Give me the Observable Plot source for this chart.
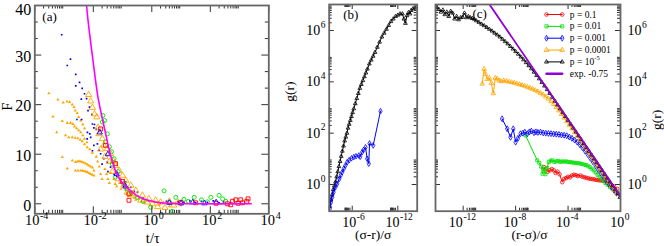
<!DOCTYPE html>
<html><head><meta charset="utf-8">
<script src="https://cdn.jsdelivr.net/npm/d3@7"></script>
<script src="https://cdn.jsdelivr.net/npm/@observablehq/plot@0.6"></script>
<style>
html,body{margin:0;padding:0;background:#fff;}
#fig{position:relative;width:664px;height:246px;overflow:hidden;background:#fff;}
#fig svg{position:absolute;left:0;top:0;}
</style></head><body><div id="fig"></div>
<script>
// ---------- Panel (a): F vs t/tau, pairs are [log10(t/tau), F] ----------
const aOrangeDots = [
 [-3.52,22.3],[-3.38,17.6],[-3.25,14.4],[-3.06,9.4],[-2.89,7.1],
 [-3.21,21.0],[-3.03,20.4],[-2.9,20.6],[-2.81,20.5],[-2.72,20.0],[-2.66,19.5],[-2.62,18.8],[-2.55,18.3],[-2.5,17.5],[-2.43,16.8],[-2.36,16.0],[-2.3,15.2],
 [-3.06,16.7],[-2.89,16.3],[-2.78,16.3],[-2.7,16.1],[-2.64,15.6],[-2.57,15.2],[-2.5,14.8],[-2.43,14.4],[-2.36,13.8],[-2.3,13.1],[-2.22,12.4],
 [-2.95,13.8],[-2.84,13.4],[-2.72,13.4],[-2.62,13.3],[-2.53,13.2],[-2.45,12.9],[-2.38,12.6],[-2.3,12.0],[-2.21,11.4],[-2.12,11.0],[-2.03,10.3],
 [-2.72,8.7],[-2.61,8.4],[-2.55,8.5],[-2.49,8.6],[-2.43,8.5],[-2.38,8.4],[-2.32,8.3],[-2.26,8.1],[-2.2,7.9],[-2.15,7.7],[-2.09,7.5],[-2.03,7.3],[-1.98,6.7],
 [-2.61,6.7],[-2.52,6.7],[-2.43,6.7],[-2.37,6.65],[-2.32,6.6],[-2.26,6.5],[-2.21,6.4],[-2.15,6.2],[-2.09,6.0],[-2.03,5.85],[-1.98,5.7],
 [-1.9,9.5],[-1.85,8.5],[-1.8,7.5],[-1.75,6.0],[-1.7,5.0],[-1.6,7.0],[-1.55,6.0],[-1.5,5.0],[-1.45,4.2],[-1.4,6.2],[-1.3,5.0],[-1.25,4.0],[-1.2,3.5],
 [-1.1,4.2],[-1.05,3.0],[-1.0,3.5],[-0.9,2.8],[-0.85,2.0],[-0.8,1.5],[-0.7,2.0],[-0.6,1.2],[-0.55,0.8],[-0.45,1.0],[-0.35,0.5],[-0.25,0.2],
 [-0.15,0.6],[-0.05,-0.3],[0.1,0.4],[0.25,-0.2],[0.4,0.3],[0.6,-0.5],[0.8,0.2],[1.0,-0.3]
];
const aBlueDots = [
 [-3.08,34.1],[-2.78,29.2],[-2.89,27.9],[-2.6,26.1],[-2.47,24.5],[-2.6,23.8],[-2.38,23.3],[-2.3,22.2],[-2.23,21.2],[-2.41,21.1],
 [-2.13,19.5],[-2.18,18.8],[-2.56,17.0],[-2.4,17.0],[-2.05,18.0],[-1.96,16.0],[-1.9,15.0],[-2.2,14.4],[-2.09,13.4],[-2.03,16.1],
 [-1.98,15.3],[-2.12,14.1],[-2.21,13.1],[-1.98,11.8],[-1.86,12.1],[-2.03,10.7],[-1.8,10.8],[-1.75,10.1],[-1.64,9.1],[-1.7,8.0],
 [-1.52,8.4],[-1.41,7.4],[-1.5,6.5],[-1.29,6.0],[-1.2,5.5],[-1.07,5.0],[-0.89,4.4],[-0.95,3.5],[-0.72,3.3],[-0.6,2.5],[-0.49,2.3],
 [-0.3,1.2],[-0.1,0.6],[0.3,0.2],[0.5,0.5],[0.7,0.1],[0.9,0.4],[1.1,0.3],[1.3,0.6],[1.5,0.2],[1.7,0.5],[1.9,0.3],[2.1,0.6],[2.3,0.2],[2.45,0.4]
];
const aBlueTriangles = [[-1.78,14.4],[-1.5,10.0],[-1.2,6.0],[-0.9,3.5],[0.6,0.2],[1.0,0.1],[1.4,0.3],[1.8,0.1],[2.2,0.3]];
const aOrangeTriangles = [
 [-2.16,22.0],[-2.09,20.7],[-2.03,19.4],[-1.96,18.1],[-1.88,17.5],[-1.84,15.4],[-1.81,14.1],[-1.69,13.1],[-1.64,11.8],[-1.52,11.1],
 [-1.41,10.1],[-1.32,8.7],[-1.24,7.7],[-1.12,6.7],[-1.0,5.7],[-0.89,4.7],[-0.72,3.7],[-0.55,2.7],[-0.32,1.7],[-0.1,1.0],[0.13,0.7],
 [0.3,0.3],[-0.84,2.3],[-0.61,1.7],[-0.38,0.7],[-0.15,0.3],[0.02,0.0],[-1.75,11.0],[-1.6,9.5],[-1.45,8.5],[-1.35,6.5],[-1.15,5.0],
 [-0.95,3.8],[-0.65,2.0],[0.2,-0.6],[0.45,-0.8],[0.6,0.5],[0.75,-0.3],[0.9,0.2]
];
const aGreenCircles = [
 [-1.67,17.8],[-1.61,16.8],[-1.69,16.5],[-1.52,14.1],[-1.58,12.5],[-1.45,11.5],[-1.38,10.5],[-1.29,9.1],[-1.35,8.0],[-1.24,5.4],
 [-1.15,6.5],[-0.95,4.0],[-0.85,3.0],[-0.7,2.2],[-0.49,1.3],[-0.3,0.5],[-0.04,-0.7],[0.7,-1.5],[0.42,2.6],[0.82,1.3],[1.1,0.9],
 [1.45,1.3],[1.7,0.8],[2.02,1.3],[2.3,1.7],[2.42,1.0],[2.53,0.5],[1.25,0.5],[1.9,0.4],[0.6,0.3]
];
const aRedSquares = [
 [-1.75,15.1],[-1.58,11.8],[-1.24,8.1],[-1.0,4.5],[-0.78,2.0],[-0.78,0.7],[0.99,0.3],[2.59,0.0],[2.76,0.5],[2.87,0.8],[3.04,0.8],
 [3.25,0.5],[3.29,1.0],[2.95,0.1],[3.1,0.2],[2.7,-0.2],[1.5,0.2],[2.2,0.1]
];
const aFitLine = [
 [-2.23,40],[-2.18,37],[-2.01,28.9],[-1.84,21.5],[-1.67,16.6],[-1.55,13.4],[-1.47,11.2],[-1.29,7.4],[-1.07,4.7],[-0.72,2.6],
 [-0.38,1.2],[0.08,0.4],[0.53,0.1],[1.5,0],[3.4,0]
];

// ---------- Panel (b): pairs are [log10((sigma-r)/sigma), log10 g(r)] ----------
const bBlack = [
 [-3.05,-0.85],[-3.2,-0.6],[-3.35,-0.4],[-3.5,-0.2],[-3.65,-0.05],[-3.8,0.1],[-3.95,0.3],[-4.1,0.5],[-4.25,0.7],[-4.4,0.9],
 [-4.55,1.1],[-4.7,1.3],[-4.85,1.5],[-5.0,1.7],[-5.15,1.85],[-5.3,2.0],[-5.45,2.2],[-5.6,2.35],[-5.75,2.5],[-5.9,2.65],
 [-6.05,2.8],[-6.2,2.95],[-6.4,3.15],[-6.6,3.35],[-6.8,3.55],[-7.0,3.75],[-7.2,3.9],[-7.4,4.05],[-7.6,4.2],[-7.8,4.35],
 [-8.0,4.5],[-8.25,4.7],[-8.5,4.85],[-8.75,5.0],[-9.0,5.15],[-9.3,5.35],[-9.6,5.55],[-9.9,5.75],[-10.2,5.9],[-10.5,6.05],
 [-10.8,6.2],[-11.1,6.35],[-11.4,6.45],[-11.7,6.55],[-12.0,6.6],[-12.3,6.65],[-12.6,6.65],[-12.8,6.45],[-13.0,6.28],[-13.2,6.58],
 [-13.4,6.7],[-13.6,6.65],[-13.75,6.78],[-14.0,6.85],[-14.3,6.88]
];
const bBlue = [
 [-3.05,-0.95],[-3.2,-0.7],[-3.37,-0.5],[-3.55,-0.3],[-3.8,-0.1],[-4.03,0.03],[-4.3,0.22],[-4.5,0.36],[-4.68,0.48],[-4.9,0.62],
 [-5.1,0.74],[-5.34,0.87],[-5.6,0.95],[-5.9,1.02],[-6.21,1.07],[-6.5,1.1],[-6.87,1.13],[-7.05,1.08],[-7.3,1.26],[-7.5,1.35],
 [-7.75,1.45],[-7.97,1.0],[-8.18,0.81],[-8.28,1.6],[-8.76,1.52],[-9.72,2.86]
];

// ---------- Panel (c): pairs are [log10((r-sigma)/sigma), log10 g(r)] ----------
const cRed = [
 [-5.85,0.68],[-5.7,0.62],[-5.55,0.5],[-5.4,0.55],[-5.25,0.6],[-5.08,0.55],[-4.95,0.45],[-4.8,0.5],[-4.65,0.4],[-4.44,0.09],
 [-4.3,0.22],[-4.15,0.25],[-4.0,0.3],[-3.85,0.28],[-3.7,0.35],[-3.55,0.38],[-3.4,0.36],[-3.25,0.33],[-3.05,0.35],[-2.9,0.3],
 [-2.75,0.28],[-2.6,0.26],[-2.45,0.24],[-2.3,0.22],[-2.15,0.21],[-2.0,0.2],[-1.85,0.18],[-1.7,0.17],[-1.55,0.16],[-1.4,0.15],
 [-1.27,0.14],[-1.1,0.1],[-0.9,0.05],[-0.7,-0.02],[-0.5,-0.08],[-0.25,-0.17]
];
const cGreen = [
 [-7.24,1.91],[-6.35,0.94],[-6.2,0.85],[-6.05,0.7],[-5.95,0.42],[-5.85,0.6],[-5.72,0.4],[-5.6,0.65],[-5.47,0.87],[-5.33,0.93],
 [-5.2,0.94],[-5.05,0.88],[-4.9,0.9],[-4.75,0.92],[-4.6,0.88],[-4.45,0.9],[-4.3,0.89],[-4.15,0.9],[-4.0,0.88],[-3.85,0.87],
 [-3.7,0.86],[-3.55,0.85],[-3.4,0.84],[-3.25,0.83],[-3.1,0.82],[-2.95,0.8],[-2.8,0.78],[-2.65,0.76],[-2.5,0.73],[-2.35,0.68],
 [-2.2,0.62],[-2.05,0.55],[-1.9,0.47],[-1.75,0.38],[-1.6,0.3],[-1.45,0.22],[-1.3,0.14],[-1.15,0.06],[-1.0,-0.01],[-0.8,-0.1],
 [-0.6,-0.18],[-0.4,-0.25],[-0.2,-0.32]
];
const cBlue = [
 [-9.03,2.56],[-8.64,2.17],[-8.39,1.84],[-8.18,2.17],[-8.0,1.65],[-7.82,1.8],[-7.63,1.98],[-7.45,2.0],[-7.3,2.04],[-7.1,1.98],
 [-6.95,2.05],[-6.8,2.08],[-6.6,2.02],[-6.45,2.05],[-6.3,2.03],[-6.1,2.04],[-5.9,2.01],[-5.7,2.0],[-5.5,1.99],[-5.3,1.98],
 [-5.1,1.97],[-4.9,1.96],[-4.7,1.95],[-4.5,1.93],[-4.3,1.92],[-4.1,1.9],[-3.9,1.85],[-3.7,1.8],[-3.5,1.73],[-3.3,1.65],
 [-3.1,1.55],[-2.9,1.43],[-2.7,1.3],[-2.5,1.17],[-2.3,1.02],[-2.1,0.88],[-1.9,0.73],[-1.7,0.58],[-1.5,0.44],[-1.3,0.3],
 [-1.1,0.16],[-0.9,0.02],[-0.7,-0.1],[-0.5,-0.22],[-0.3,-0.34]
];
const cOrange = [
 [-10.55,3.92],[-10.4,4.5],[-10.3,4.3],[-10.15,4.1],[-10.0,4.15],[-9.85,3.95],[-9.7,3.55],[-9.55,4.15],[-9.4,4.12],[-9.25,4.05],
 [-9.1,4.02],[-8.9,4.05],[-8.7,4.03],[-8.5,4.0],[-8.3,3.98],[-8.1,3.96],[-7.9,3.93],[-7.7,3.9],[-7.5,3.87],[-7.3,3.84],
 [-7.1,3.8],[-6.9,3.76],[-6.7,3.72],[-6.5,3.67],[-6.3,3.62],[-6.1,3.56],[-5.9,3.5],[-5.7,3.42],[-5.5,3.34],[-5.3,3.24],
 [-5.1,3.13],[-4.9,3.01],[-4.7,2.88],[-4.5,2.74],[-4.3,2.6],[-4.1,2.46],[-3.9,2.32],[-3.7,2.18],[-3.5,2.03],[-3.3,1.89],
 [-3.1,1.74],[-2.9,1.59],[-2.7,1.44],[-2.5,1.29],[-2.3,1.14],[-2.1,0.99],[-1.9,0.84],[-1.7,0.69],[-1.5,0.54],[-1.3,0.39],
 [-1.1,0.24],[-0.9,0.09],[-0.7,-0.06],[-0.5,-0.2],[-0.3,-0.34]
];
const cBlack = [
 [-14.0,6.9],[-13.85,6.82],[-13.7,6.72],[-13.55,6.8],[-13.4,6.62],[-13.25,6.72],[-13.1,6.55],[-12.95,6.75],[-12.8,6.68],[-12.65,6.45],
 [-12.5,6.55],[-12.35,6.42],[-12.2,6.5],[-12.05,6.52],[-11.9,6.68],[-11.75,6.5],[-11.6,6.55],[-11.45,6.5],[-11.3,6.47],[-11.15,6.44],
 [-11.0,6.38],[-10.8,6.32],[-10.6,6.25],[-10.4,6.19],[-10.2,6.12],[-10.0,6.05],[-9.8,5.98],[-9.6,5.9],[-9.4,5.83],[-9.2,5.75],
 [-9.0,5.66],[-8.8,5.57],[-8.6,5.48],[-8.4,5.38],[-8.2,5.28],[-8.0,5.18],[-7.8,5.08],[-7.6,4.97],[-7.4,4.86],[-7.2,4.75],
 [-7.0,4.63],[-6.8,4.51],[-6.6,4.38],[-6.4,4.25],[-6.2,4.12],[-6.0,3.98],[-5.8,3.84],[-5.6,3.7],[-5.4,3.55],[-5.2,3.4],
 [-5.0,3.25],[-4.8,3.1],[-4.6,2.95],[-4.4,2.8],[-4.2,2.65],[-4.0,2.5],[-3.8,2.35],[-3.6,2.2],[-3.4,2.05],[-3.2,1.9],
 [-3.0,1.75],[-2.8,1.6],[-2.6,1.45],[-2.4,1.3],[-2.2,1.15],[-2.0,1.0],[-1.8,0.85],[-1.6,0.7],[-1.4,0.55],[-1.2,0.4],
 [-1.0,0.25],[-0.8,0.1],[-0.6,-0.05],[-0.4,-0.2],[-0.2,-0.35],[-0.05,-0.5]
];
const cPowerLine = [[-10.2,7.17],[0,-0.46]];

// ---------- legend / tick labels ----------
const legendLabels = ["p = 0.1","p = 0.01","p = 0.001","p = 0.0001","p = 10","exp. -0.75"];
const legendSup = ["","","","","-5",""];
const legendColors = ["#ff0000","#00e000","#0000ff","#ffa500","#000000","#9400d3"];
const legendSymbols = ["circle","square","diamond","triangle","triangle",null];
const aXTickExp = [-4,-2,0,2,4];
const aYTicks = [0,10,20,30,40];
const bXTickExp = [-6,-12];
const gYTickExp = [0,2,4,6];
const cXTickExp = [-12,-8,-4,0];

// ---------- helpers ----------
const W = 664, H = 246;
const FONT = "Liberation Serif";
const FRAMEC = "#666", TICKC = "#333";
const fig = document.getElementById("fig");
const lin = d => ({x: 10 ** d[0], y: d[1]});
const loglog = d => ({x: 10 ** d[0], y: 10 ** d[1]});

function draw(opts) {
  const svg = Plot.plot({width: W, height: H, ...opts,
    style: {background: "transparent", fontFamily: FONT, overflow: "visible"}});
  fig.appendChild(svg);
}
function minors(exps) { const out = []; for (const e of exps) for (let k = 2; k <= 9; k++) out.push(k * 10 ** e); return out; }
function ticksX(vals, fh, len) {
  return [Plot.ruleX(vals, {x: d => d, stroke: TICKC, strokeWidth: 1, insetTop: fh - len}),
          Plot.ruleX(vals, {x: d => d, stroke: TICKC, strokeWidth: 1, insetBottom: fh - len})];
}
function ticksY(vals, fw, len) {
  return [Plot.ruleY(vals, {y: d => d, stroke: TICKC, strokeWidth: 1, insetRight: fw - len}),
          Plot.ruleY(vals, {y: d => d, stroke: TICKC, strokeWidth: 1, insetLeft: fw - len})];
}
const chW = c => c === "-" ? 0.333 : 0.5;
function xPowLabels(exps, bfs, efs, dyBase, shift) {
  return exps.flatMap(e => {
    const es = String(e);
    const expW = [...es].reduce((s, c) => s + chW(c), 0) * efs;
    const baseEnd = (bfs - expW) / 2 + shift;
    return [
      Plot.text([10 ** e], {x: d => d, text: () => "10", frameAnchor: "bottom", lineAnchor: "bottom", textAnchor: "end",
        dx: baseEnd, dy: dyBase, fontSize: bfs, fontFamily: FONT, fill: "black"}),
      Plot.text([10 ** e], {x: d => d, text: () => es, frameAnchor: "bottom", lineAnchor: "bottom", textAnchor: "start",
        dx: baseEnd + 0.6, dy: dyBase - bfs * 0.45, fontSize: efs, fontFamily: FONT, fill: "black"})
    ];
  });
}
function yPowLabels(exps, side, bfs, efs, gap) {
  return exps.flatMap(e => {
    const es = String(e);
    if (side === "left") {
      return [
        Plot.text([10 ** e], {y: d => d, text: () => "10", frameAnchor: "left", lineAnchor: "middle", textAnchor: "end",
          dx: -gap - 5, fontSize: bfs, fontFamily: FONT, fill: "black"}),
        Plot.text([10 ** e], {y: d => d, text: () => es, frameAnchor: "left", lineAnchor: "middle", textAnchor: "start",
          dx: -gap - 4.4, dy: -bfs * 0.42, fontSize: efs, fontFamily: FONT, fill: "black"})
      ];
    }
    return [
      Plot.text([10 ** e], {y: d => d, text: () => "10", frameAnchor: "right", lineAnchor: "middle", textAnchor: "start",
        dx: gap, fontSize: bfs, fontFamily: FONT, fill: "black"}),
      Plot.text([10 ** e], {y: d => d, text: () => es, frameAnchor: "right", lineAnchor: "middle", textAnchor: "start",
        dx: gap + bfs + 0.6, dy: -bfs * 0.42, fontSize: efs, fontFamily: FONT, fill: "black"})
    ];
  });
}
function scatter(data, conv, o) {
  return Plot.dot(data.map(conv), {x: "x", y: "y", clip: true, strokeWidth: 0.9, ...o});
}
function series(data, conv, color, symbol, r) {
  const pts = data.map(conv);
  return [
    Plot.line(pts, {x: "x", y: "y", stroke: color, strokeWidth: 1, clip: true}),
    Plot.dot(pts, {x: "x", y: "y", stroke: color, fill: "none", symbol, r, strokeWidth: 0.8, clip: true})
  ];
}

// ---------- Panel (a) ----------
{
  const mL = 34.3, mR = W - 268.3, mT = 5, mB = H - 213.3;
  const fw = W - mL - mR, fh = H - mT - mB;
  const top = aYTicks[aYTicks.length - 1];
  draw({
    marginLeft: mL, marginRight: mR, marginTop: mT, marginBottom: mB,
    x: {type: "log", domain: [1e-4, 1e4], axis: null},
    y: {type: "linear", domain: [-2.02, 40], axis: null},
    marks: [
      scatter(aOrangeDots, lin, {fill: "#ffa500", stroke: "none", symbol: "triangle", r: 1.2}),
      scatter(aBlueDots, lin, {fill: "#0000ff", stroke: "none", symbol: "square", r: 0.95}),
      scatter(aOrangeTriangles, lin, {stroke: "#ffa500", fill: "none", symbol: "triangle", r: 2.3}),
      scatter(aGreenCircles, lin, {stroke: "#00e000", fill: "none", symbol: "circle", r: 2.0}),
      scatter(aRedSquares, lin, {stroke: "#ff0000", fill: "none", symbol: "square", r: 2.2}),
      scatter(aBlueTriangles, lin, {stroke: "#0000ff", fill: "none", symbol: "triangle", r: 2.0}),
      Plot.line(aFitLine.map(lin), {x: "x", y: "y", stroke: "#ff00ff", strokeWidth: 1.6, curve: "catmull-rom", clip: true}),
      ticksX(aXTickExp.map(e => 10 ** e), fh, 7),
      ticksX(minors([-4, -2, 0, 2]), fh, 3.5),
      ticksY(aYTicks, fw, 7),
      ticksY([10/3, 20/3, 40/3, 50/3, 70/3, 80/3, 100/3, 110/3], fw, 3.5),
      Plot.frame({stroke: FRAMEC, strokeWidth: 1.8}),
      Plot.text(aYTicks.filter(v => v !== top), {y: d => d, text: d => String(d), frameAnchor: "left", textAnchor: "end", lineAnchor: "middle",
        dx: -3.5, dy: 1.6, fontSize: 16, fontFamily: FONT, fill: "black"}),
      Plot.text([top], {y: d => d, text: d => String(d), frameAnchor: "left", textAnchor: "end", lineAnchor: "middle",
        dx: -3.5, dy: 4.6, fontSize: 16, fontFamily: FONT, fill: "black"}),
      xPowLabels(aXTickExp, 14.5, 10, 11.5, 1.5),
      Plot.text(["t/τ"], {frameAnchor: "bottom", lineAnchor: "bottom", dy: 29, dx: 1, fontSize: 14.5, fontFamily: FONT, fill: "black"}),
      Plot.text(["F"], {frameAnchor: "left", lineAnchor: "bottom", rotate: -90, dx: -22.5, dy: 1, fontSize: 14.5, fontFamily: FONT, fill: "black"}),
      Plot.text(["(a)"], {frameAnchor: "top-left", lineAnchor: "bottom", textAnchor: "start", dx: 7.5, dy: 15.5, fontSize: 13, fontFamily: FONT, fill: "black"})
    ]
  });
}

// ---------- Panel (b) ----------
const gDomain = [10 ** -1.04, 10 ** 7.013];
{
  const mL = 328.7, mR = W - 416.7, mT = 4, mB = H - 210.7;
  const fw = W - mL - mR, fh = H - mT - mB;
  draw({
    marginLeft: mL, marginRight: mR, marginTop: mT, marginBottom: mB,
    x: {type: "log", domain: [10 ** -2.97, 10 ** -14.55], axis: null},
    y: {type: "log", domain: gDomain, axis: null},
    marks: [
      series(bBlack, loglog, "#000000", "triangle", 1.4),
      series(bBlue, loglog, "#0000ff", "diamond", 1.7),
      ticksX(bXTickExp.map(e => 10 ** e), fh, 5),
      ticksX(minors([-6, -12]), fh, 3),
      ticksY(gYTickExp.map(e => 10 ** e), fw, 5),
      ticksY(minors([0, 2, 4, 6]), fw, 3),
      Plot.frame({stroke: FRAMEC, strokeWidth: 1.8}),
      yPowLabels(gYTickExp, "left", 14, 9.5, 4),
      xPowLabels(bXTickExp, 14, 9.5, 15.5, 1),
      Plot.text(["(σ-r)/σ"], {frameAnchor: "bottom", lineAnchor: "bottom", dy: 27.5, fontSize: 13.5, fontFamily: FONT, fill: "black"}),
      Plot.text(["g(r)"], {frameAnchor: "left", lineAnchor: "middle", rotate: -90, dx: -40, dy: -6, fontSize: 13.5, fontFamily: FONT, fill: "black"}),
      Plot.text(["(b)"], {frameAnchor: "top-left", lineAnchor: "bottom", textAnchor: "start", dx: 14, dy: 14.5, fontSize: 13, fontFamily: FONT, fill: "black"})
    ]
  });
}

// ---------- Panel (c) ----------
{
  const mL = 435, mR = W - 620, mT = 4, mB = H - 210.7;
  const fw = W - mL - mR, fh = H - mT - mB;
  draw({
    marginLeft: mL, marginRight: mR, marginTop: mT, marginBottom: mB,
    x: {type: "log", domain: [10 ** -14.11, 1], axis: null},
    y: {type: "log", domain: gDomain, axis: null},
    marks: [
      series(cRed, loglog, "#ff0000", "circle", 1.8),
      series(cGreen, loglog, "#00e000", "square", 1.7),
      series(cBlue, loglog, "#0000ff", "diamond", 1.8),
      series(cOrange, loglog, "#ffa500", "triangle", 1.7),
      series(cBlack, loglog, "#000000", "triangle", 1.4),
      Plot.line(cPowerLine.map(loglog), {x: "x", y: "y", stroke: "#9400d3", strokeWidth: 1.8, clip: true}),
      ticksX(cXTickExp.map(e => 10 ** e), fh, 5),
      ticksX(minors([-12, -8, -4]), fh, 3),
      ticksY(gYTickExp.map(e => 10 ** e), fw, 5),
      ticksY(minors([0, 2, 4, 6]), fw, 3),
      Plot.frame({stroke: FRAMEC, strokeWidth: 1.8}),
      yPowLabels(gYTickExp, "right", 14, 9.5, 7),
      xPowLabels(cXTickExp, 14, 9.5, 15.5, -1),
      Plot.text(["(r-σ)/σ"], {frameAnchor: "bottom", lineAnchor: "bottom", dy: 28, dx: 1.5, fontSize: 13.5, fontFamily: FONT, fill: "black"}),
      Plot.text(["g(r)"], {frameAnchor: "right", lineAnchor: "middle", rotate: -90, dx: 36, dy: 2, fontSize: 13.5, fontFamily: FONT, fill: "black"}),
      Plot.text(["(c)"], {frameAnchor: "top-left", lineAnchor: "bottom", textAnchor: "start", dx: 37, dy: 13, fontSize: 13, fontFamily: FONT, fill: "black"})
    ]
  });
}

// ---------- Legend of panel (c), pixel space overlay ----------
{
  const x0 = 546, x1 = 561.7, tx = 569.3, y0 = 14, gap = 11.85, fs = 9.5;
  const rows = legendLabels.map((label, i) => ({label, sup: legendSup[i], color: legendColors[i], symbol: legendSymbols[i], y: y0 + gap * i}));
  const marks = [];
  rows.forEach(r => {
    marks.push(Plot.line([[x0, r.y], [x1, r.y]], {stroke: r.color, strokeWidth: r.symbol ? 1 : 2.4}));
    if (r.symbol) marks.push(Plot.dot([[x0, r.y], [x1, r.y]], {stroke: r.color, fill: "none", symbol: r.symbol, r: r.color === "#000000" ? 1.5 : 1.8, strokeWidth: 0.8}));
    marks.push(Plot.text([r], {x: () => tx, y: "y", text: "label", textAnchor: "start", lineAnchor: "middle", fontSize: fs, fontFamily: FONT, fill: "black"}));
    if (r.sup) marks.push(Plot.text([r], {x: () => tx + 24.5, y: "y", text: "sup", textAnchor: "start", lineAnchor: "middle", dy: -4, fontSize: 6.5, fontFamily: FONT, fill: "black"}));
  });
  draw({margin: 0,
    x: {type: "linear", domain: [0, W], range: [0, W], axis: null},
    y: {type: "linear", domain: [0, H], range: [0, H], axis: null},
    marks});
}
</script></body></html>
